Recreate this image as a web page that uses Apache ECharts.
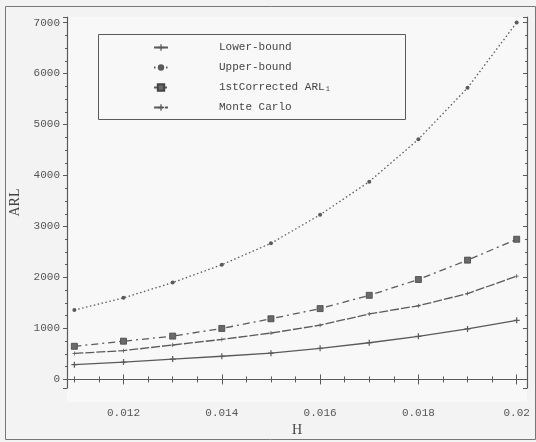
<!DOCTYPE html>
<html><head><meta charset="utf-8">
<script src="https://cdn.jsdelivr.net/npm/echarts@6/dist/echarts.min.js"></script>
<style>html,body{margin:0;padding:0;background:#f3f3f3;}#c{width:536px;height:442px;}</style>
</head><body><div id="c"></div>
<script>
const hValues = [0.011, 0.012, 0.013, 0.014, 0.015, 0.016, 0.017, 0.018, 0.019, 0.020];
const lowerBound = [290, 340, 400, 455, 515, 610, 720, 845, 990, 1160];
const upperBound = [1360, 1600, 1900, 2250, 2670, 3230, 3880, 4710, 5720, 7000];
const corrected = [650, 750, 850, 1000, 1190, 1390, 1650, 1960, 2340, 2750];
const monteCarlo = [510, 565, 675, 785, 910, 1065, 1285, 1445, 1685, 2025];
const seriesNames = ['Lower-bound', 'Upper-bound', '1stCorrected ARL\u2081', 'Monte Carlo'];

const pair = arr => hValues.map((h, i) => [h, arr[i]]);
const ink = '#5a5a5a';
const mono = 'Liberation Mono';
const plusPath = 'path://M4,0H6V4H10V6H6V10H4V6H0V4H4Z';

const chart = echarts.init(document.getElementById('c'));
const xr = [0.01085, 0.02021], yr = [-170, 7110];
const baseX = {type: 'value', min: xr[0], max: xr[1], splitNumber: 5, splitLine: {show: false},
  axisLine: {lineStyle: {color: ink, width: 1.2}}};
const baseY = {type: 'value', min: yr[0], max: yr[1], splitNumber: 7, splitLine: {show: false},
  axisLine: {lineStyle: {color: ink, width: 1.2}}};
chart.setOption({
  backgroundColor: '#f3f3f3',
  animation: false,
  graphic: [
    {type: 'rect', shape: {x: 5.5, y: 6.5, width: 530, height: 433}, style: {fill: 'none', stroke: '#777', lineWidth: 1}, z: -1},
    {type: 'rect', shape: {x: 67, y: 17, width: 460, height: 385}, style: {fill: '#f8f8f8'}, z: -2},
    {type: 'rect', shape: {x: 98.5, y: 34.5, width: 307, height: 85}, style: {fill: '#f8f8f8', stroke: ink, lineWidth: 1}, z: 5}
  ],
  grid: {left: 67, right: 9, top: 17, bottom: 40},
  legend: {
    orient: 'vertical', left: 153, top: 42, padding: 0, itemGap: 9, itemWidth: 14, itemHeight: 8, z: 10,
    data: seriesNames,
    textStyle: {fontFamily: mono, fontSize: 11, color: '#444', padding: [0, 0, 0, 46]}
  },
  xAxis: [
    Object.assign({}, baseX, {position: 'bottom', name: 'H', nameLocation: 'middle', nameGap: 31,
      nameTextStyle: {fontFamily: 'Liberation Serif', fontSize: 14, color: '#444'},
      axisTick: {inside: true, length: 5, lineStyle: {color: ink}},
      minorTick: {show: true, splitNumber: 4, length: 3, lineStyle: {color: ink}},
      axisLabel: {showMinLabel: false, showMaxLabel: false, margin: 19, fontFamily: mono, fontSize: 11, color: '#555'}}),
    Object.assign({}, baseX, {position: 'top', axisLabel: {show: false},
      axisTick: {inside: true, length: 5, lineStyle: {color: ink}},
      minorTick: {show: true, splitNumber: 4, length: 3, lineStyle: {color: ink}}})
  ],
  yAxis: [
    Object.assign({}, baseY, {position: 'left', name: 'ARL', nameLocation: 'middle', nameGap: 44, nameRotate: 90,
      nameTextStyle: {fontFamily: 'Liberation Serif', fontSize: 14, color: '#444'},
      axisTick: {inside: false, length: 4, lineStyle: {color: ink}},
      minorTick: {show: true, splitNumber: 4, length: 2, lineStyle: {color: ink}},
      axisLabel: {showMinLabel: false, showMaxLabel: false, margin: 7, fontFamily: mono, fontSize: 11, color: '#555',
        formatter: v => String(Math.round(v))}}),
    Object.assign({}, baseY, {position: 'right', axisLabel: {show: false},
      axisTick: {inside: true, length: 4, lineStyle: {color: ink}},
      minorTick: {show: true, splitNumber: 4, length: 2, lineStyle: {color: ink}}})
  ],
  series: [
    {name: seriesNames[0], type: 'line', data: pair(lowerBound), symbol: plusPath, symbolSize: 6,
      itemStyle: {color: ink}, lineStyle: {color: ink, width: 1.3, type: 'solid'}},
    {name: seriesNames[1], type: 'line', data: pair(upperBound), symbol: 'circle', symbolSize: 4,
      itemStyle: {color: ink}, lineStyle: {color: ink, width: 1.3, type: [1.5, 2.5]}},
    {name: seriesNames[2], type: 'line', data: pair(corrected), symbol: 'rect', symbolSize: 6,
      itemStyle: {color: '#6a6a6a', borderColor: '#444', borderWidth: 0.8}, lineStyle: {color: ink, width: 1.3, type: [7, 4, 2, 4]}},
    {name: seriesNames[3], type: 'line', data: pair(monteCarlo), symbol: plusPath, symbolSize: 4,
      itemStyle: {color: ink}, lineStyle: {color: ink, width: 1.3, type: [9, 2]}}
  ]
});
</script></body></html>
